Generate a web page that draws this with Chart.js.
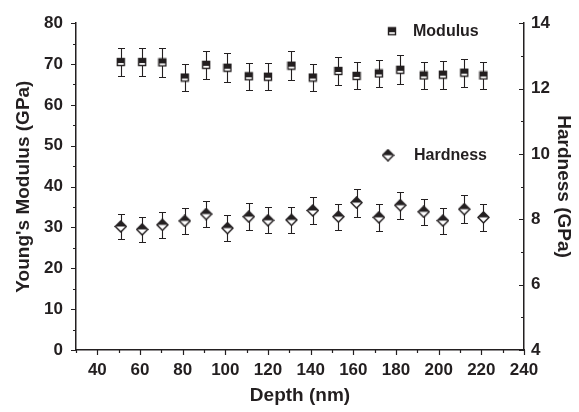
<!DOCTYPE html>
<html lang="en">
<head>
<meta charset="UTF-8">
<title>Modulus and Hardness vs Depth</title>
<script src="https://cdn.jsdelivr.net/npm/chart.js"></script>
<style>
  body { margin: 0; background: #fff; }
  #wrap { width: 579px; height: 412px; }
</style>
</head>
<body>
<div id="wrap"><canvas id="depthChart"></canvas></div>
<script>
// indentation depth (nm) shared by both series
const depth = [51, 61, 70.5, 81, 91, 101, 111, 120, 131, 141, 153, 161.5, 172, 182, 193, 202, 212, 221];
// Young's modulus (GPa) and its standard deviation
const modulus = [70.5, 70.5, 70.4, 66.7, 69.8, 69.1, 67.0, 66.9, 69.6, 66.7, 68.3, 67.1, 67.7, 68.6, 67.2, 67.4, 67.9, 67.2];
const modulusErr = [3.5, 3.5, 3.5, 3.3, 3.5, 3.5, 3.3, 3.3, 3.5, 3.3, 3.4, 3.3, 3.4, 3.5, 3.4, 3.4, 3.4, 3.3];
// hardness (GPa) and its standard deviation
const hardness = [7.78, 7.69, 7.83, 7.95, 8.16, 7.73, 8.08, 7.97, 7.98, 8.27, 8.08, 8.51, 8.06, 8.43, 8.23, 7.96, 8.31, 8.06];
const hardnessErr = [0.39, 0.38, 0.39, 0.40, 0.40, 0.39, 0.41, 0.40, 0.40, 0.41, 0.40, 0.43, 0.41, 0.42, 0.40, 0.40, 0.42, 0.41];

const INK = '#231f20';
const FONT = "'Liberation Sans', Arial, Helvetica, sans-serif";

// half-filled square marker
function squareMarker() {
    const c = document.createElement('canvas');
    c.width = 10; c.height = 10;
    const g = c.getContext('2d');
    g.fillStyle = '#fff';
    g.fillRect(1, 1, 8, 8);
    g.fillStyle = INK;
    g.fillRect(1, 1, 8, 5);
    g.strokeStyle = INK;
    g.lineWidth = 1.4;
    g.strokeRect(1.5, 1.5, 7, 7);
    return c;
}

// half-filled diamond marker
function diamondMarker() {
    const c = document.createElement('canvas');
    c.width = 13; c.height = 13;
    const g = c.getContext('2d');
    g.beginPath();
    g.moveTo(6.5, 1); g.lineTo(12, 6.5); g.lineTo(6.5, 12); g.lineTo(1, 6.5);
    g.closePath();
    g.fillStyle = '#fff';
    g.fill();
    g.strokeStyle = INK;
    g.lineWidth = 1.5;
    g.stroke();
    g.beginPath();
    g.moveTo(6.5, 1); g.lineTo(12, 6.5); g.lineTo(1, 6.5);
    g.closePath();
    g.fillStyle = INK;
    g.fill();
    return c;
}

const squareImg = squareMarker();
const diamondImg = diamondMarker();

const decorations = {
    id: 'decorations',
    beforeDatasetsDraw(chart) {
        const ctx = chart.ctx;
        const xs = chart.scales.x;
        ctx.save();
        ctx.strokeStyle = INK;
        ctx.lineWidth = 1.1;
        [[chart.scales.y, modulus, modulusErr], [chart.scales.y1, hardness, hardnessErr]].forEach(([ys, vals, errs]) => {
            depth.forEach((d, i) => {
                const px = Math.round(xs.getPixelForValue(d)) + 0.5;
                const top = Math.round(ys.getPixelForValue(vals[i] + errs[i])) + 0.5;
                const bot = Math.round(ys.getPixelForValue(vals[i] - errs[i])) + 0.5;
                ctx.beginPath();
                ctx.moveTo(px, top); ctx.lineTo(px, bot);
                ctx.moveTo(px - 3.5, top); ctx.lineTo(px + 3.5, top);
                ctx.moveTo(px - 3.5, bot); ctx.lineTo(px + 3.5, bot);
                ctx.stroke();
            });
        });
        ctx.restore();
    },
    afterDraw(chart) {
        const ctx = chart.ctx;
        const area = chart.chartArea;
        const {x, y, y1} = chart.scales;
        ctx.save();
        ctx.strokeStyle = INK;
        ctx.lineWidth = 1.2;
        ctx.beginPath();
        // bottom axis ticks point down
        x.ticks.forEach(t => {
            const px = Math.round(x.getPixelForValue(t.value)) + 0.5;
            ctx.moveTo(px, area.bottom);
            ctx.lineTo(px, area.bottom + (t.label !== '' ? 5 : 3));
        });
        // left axis ticks point out
        y.ticks.forEach(t => {
            const py = Math.round(y.getPixelForValue(t.value)) + 0.5;
            ctx.moveTo(area.left, py);
            ctx.lineTo(area.left - (t.label !== '' ? 5 : 3), py);
        });
        // right axis ticks point into the plot
        y1.ticks.forEach(t => {
            const py = Math.round(y1.getPixelForValue(t.value)) + 0.5;
            ctx.moveTo(area.right, py);
            ctx.lineTo(area.right - (t.label !== '' ? 5 : 3), py);
        });
        ctx.stroke();

        // in-plot legend entries
        ctx.fillStyle = INK;
        ctx.font = 'bold 16px ' + FONT;
        ctx.textBaseline = 'middle';
        ctx.textAlign = 'left';
        const lx = area.left + 316;
        ctx.drawImage(squareImg, lx - 5, area.top + 8 - 5);
        ctx.fillText('Modulus', lx + 21, area.top + 8);
        ctx.drawImage(diamondImg, lx - 4 - 6.5, area.top + 132 - 6.5);
        ctx.fillText('Hardness', lx + 22, area.top + 132);
        ctx.restore();
    }
};

const tickFont = {family: FONT, size: 17, weight: 'bold'};
const titleFont = {family: FONT, size: 19, weight: 'bold'};

new Chart(document.getElementById('depthChart'), {
    type: 'scatter',
    data: {
        datasets: [
            {
                label: 'Modulus',
                data: depth.map((d, i) => ({x: d, y: modulus[i]})),
                yAxisID: 'y',
                pointStyle: squareImg,
                pointRadius: 5
            },
            {
                label: 'Hardness',
                data: depth.map((d, i) => ({x: d, y: hardness[i]})),
                yAxisID: 'y1',
                pointStyle: diamondImg,
                pointRadius: 6
            }
        ]
    },
    options: {
        responsive: true,
        maintainAspectRatio: false,
        animation: false,
        layout: {padding: {top: 18}},
        plugins: {
            legend: {display: false},
            tooltip: {enabled: false}
        },
        scales: {
            x: {
                type: 'linear',
                position: 'bottom',
                min: 30,
                max: 240,
                afterFit: s => { s.height = 62; },
                grid: {display: false, drawTicks: false},
                border: {display: true, color: INK, width: 1.5},
                ticks: {
                    stepSize: 10,
                    autoSkip: false,
                    maxRotation: 0,
                    padding: 10,
                    color: INK,
                    font: tickFont,
                    callback: v => (v % 20 === 0 && v >= 40) ? v : ''
                },
                title: {display: true, text: 'Depth (nm)', color: INK, font: titleFont, padding: {top: 0, bottom: 5}}
            },
            y: {
                type: 'linear',
                position: 'left',
                min: 0,
                max: 80,
                afterFit: s => { s.width = 76; },
                grid: {display: false, drawTicks: false},
                border: {display: true, color: INK, width: 1.5},
                ticks: {
                    stepSize: 5,
                    autoSkip: false,
                    padding: 13,
                    color: INK,
                    font: tickFont,
                    callback: v => v % 10 === 0 ? v : ''
                },
                title: {display: true, text: "Young's Modulus (GPa)", color: INK, font: titleFont, padding: {top: 12, bottom: 0}}
            },
            y1: {
                type: 'linear',
                position: 'right',
                min: 4,
                max: 14,
                afterFit: s => { s.width = 55; },
                grid: {display: false, drawTicks: false},
                border: {display: true, color: INK, width: 1.5},
                ticks: {
                    stepSize: 1,
                    autoSkip: false,
                    padding: 7,
                    color: INK,
                    font: tickFont,
                    callback: v => v % 2 === 0 ? v : ''
                },
                title: {display: true, text: 'Hardness (GPa)', color: INK, font: titleFont, padding: {top: 4, bottom: 0}}
            }
        }
    },
    plugins: [decorations]
});
</script>
</body>
</html>
